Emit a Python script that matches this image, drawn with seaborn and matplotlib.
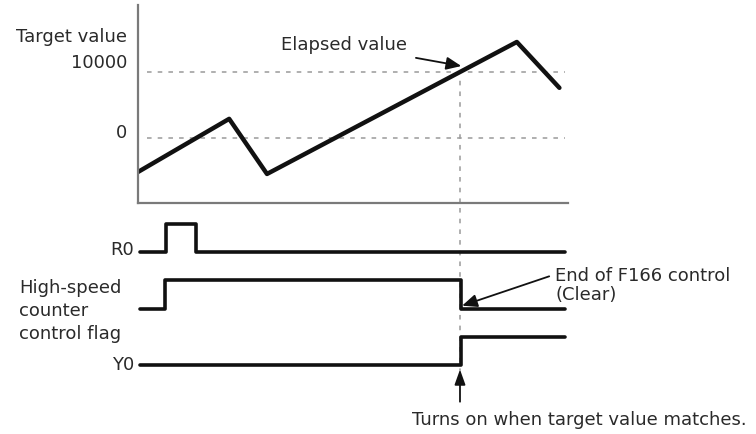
import numpy as np
import pandas as pd
import matplotlib
matplotlib.use("Agg")
import matplotlib.pyplot as plt
import matplotlib.transforms as mtransforms
import seaborn as sns

# Elapsed counter value over time (time in arbitrary units 0..100)
elapsed_time = [0, 21.2, 30.0, 88.1, 98.0]
elapsed_value = [-5150, 2900, -5450, 14550, 7600]
target_value = 10000
zero_value = 0

# Digital signals: change times and states (steps-post)
r0_time = [0.5, 6.6, 13.4, 99.2]
r0_state = [0, 1, 0, 0]
flag_time = [0.5, 6.3, 75.1, 99.2]
flag_state = [0, 1, 0, 0]
y0_time = [0.5, 75.1, 99.2]
y0_state = [0, 1, 1]

signal_names = ["R0", "High-speed\ncounter\ncontrol flag", "Y0"]

sns.set_style("white")
plt.rcParams["font.family"] = ["DejaVu Sans"]
plt.rcParams["font.size"] = 13

W, H = 756, 434
fig = plt.figure(figsize=(W / 100, H / 100), dpi=100)
fig.patch.set_facecolor("white")

ax_left, ax_right = 138, 568
top_y0, top_y1 = 5, 203
ax_top = fig.add_axes([ax_left / W, 1 - top_y1 / H, (ax_right - ax_left) / W, (top_y1 - top_y0) / H])
ax_bot = fig.add_axes([ax_left / W, 0, (ax_right - ax_left) / W, (H - top_y1) / H])

ink = "#111111"
txt = "#2a2a2a"
grid_c = "#9a9a9a"
axis_c = "#7a7a7a"

# ---- Upper panel: elapsed value ----
ax_top.set_xlim(0, 100)
ax_top.set_ylim(-9850, 20150)
t_match = np.interp(target_value, elapsed_value[2:4], elapsed_time[2:4])

ax_top.hlines([target_value, zero_value], 2, 99.2, colors=grid_c, linestyles=(0, (3, 4)), lw=1.1)
ax_top.vlines(t_match, -9850, target_value - 1200, colors=grid_c, linestyles=(0, (3, 4)), lw=1.1)

df_e = pd.DataFrame({"t": elapsed_time, "v": elapsed_value})
sns.lineplot(data=df_e, x="t", y="v", ax=ax_top, color=ink, lw=3.2, sort=False, estimator=None)

for s in ["top", "right"]:
    ax_top.spines[s].set_visible(False)
for s in ["left", "bottom"]:
    ax_top.spines[s].set_color(axis_c)
    ax_top.spines[s].set_linewidth(1.6)
ax_top.set_xticks([])
ax_top.set_yticks([])
ax_top.set_xlabel("")
ax_top.set_ylabel("")

tr_top = mtransforms.blended_transform_factory(ax_top.transAxes, ax_top.transData)
lx = -11 / 430
ax_top.text(lx, 15300, "Target value", ha="right", va="center", transform=tr_top, color=txt)
ax_top.text(lx, target_value + 1350, f"{target_value}", ha="right", va="center", transform=tr_top, color=txt)
ax_top.text(lx, zero_value + 750, f"{zero_value}", ha="right", va="center", transform=tr_top, color=txt)

ax_top.annotate("Elapsed value", xy=(t_match + 0.3, target_value + 900), xytext=(33.3, 14100),
                ha="left", va="center", color=txt,
                arrowprops=dict(arrowstyle="-|>,head_length=0.7,head_width=0.3", color=ink, lw=1.3,
                                shrinkA=4, shrinkB=0))

# ---- Lower panel: timing signals ----
px_per_unit = 56.5
y0_base_px = 365
ax_bot.set_xlim(0, 100)
ax_bot.set_ylim((y0_base_px - H) / px_per_unit, (y0_base_px - top_y1) / px_per_unit)
ax_bot.axis("off")

amp = 0.5
signals = [(r0_time, r0_state, 2), (flag_time, flag_state, 1), (y0_time, y0_state, 0)]
for times, states, level in signals:
    df_s = pd.DataFrame({"t": times, "v": [level + amp * s for s in states]})
    sns.lineplot(data=df_s, x="t", y="v", ax=ax_bot, color=ink, lw=2.6, drawstyle="steps-post",
                 sort=False, estimator=None)
ax_bot.set_xlabel("")
ax_bot.set_ylabel("")

ax_bot.vlines(t_match, -0.15, 3.0, colors=grid_c, linestyles=(0, (3, 4)), lw=1.1, zorder=0)

tr_bot = mtransforms.blended_transform_factory(ax_bot.transAxes, ax_bot.transData)
ax_bot.text(-4 / 430, 2.03, signal_names[0], ha="right", va="center", transform=tr_bot, color=txt)
ax_bot.text(-4 / 430, 0.0, signal_names[2], ha="right", va="center", transform=tr_bot, color=txt)
ax_bot.text(-119 / 430, 1.52, signal_names[1], ha="left", va="top", transform=tr_bot, color=txt,
            linespacing=1.35)

ax_bot.annotate("End of F166 control\n(Clear)", xy=(t_match + 0.5, 1.05), xytext=(97.0, 1.41),
                ha="left", va="center", color=txt, linespacing=1.05, annotation_clip=False,
                arrowprops=dict(arrowstyle="-|>,head_length=0.7,head_width=0.3", color=ink, lw=1.3,
                                shrinkA=2, shrinkB=0, relpos=(0, 0.8)))

ax_bot.annotate("", xy=(t_match, -0.08), xytext=(t_match, -0.65),
                arrowprops=dict(arrowstyle="-|>,head_length=0.7,head_width=0.25", color=ink, lw=1.3,
                                shrinkA=0, shrinkB=0))
ax_bot.text(t_match - 11.2, -0.97, "Turns on when target value matches.", ha="left", va="center",
            color=txt, clip_on=False)

fig.savefig("out.png", dpi=100, facecolor="white")
